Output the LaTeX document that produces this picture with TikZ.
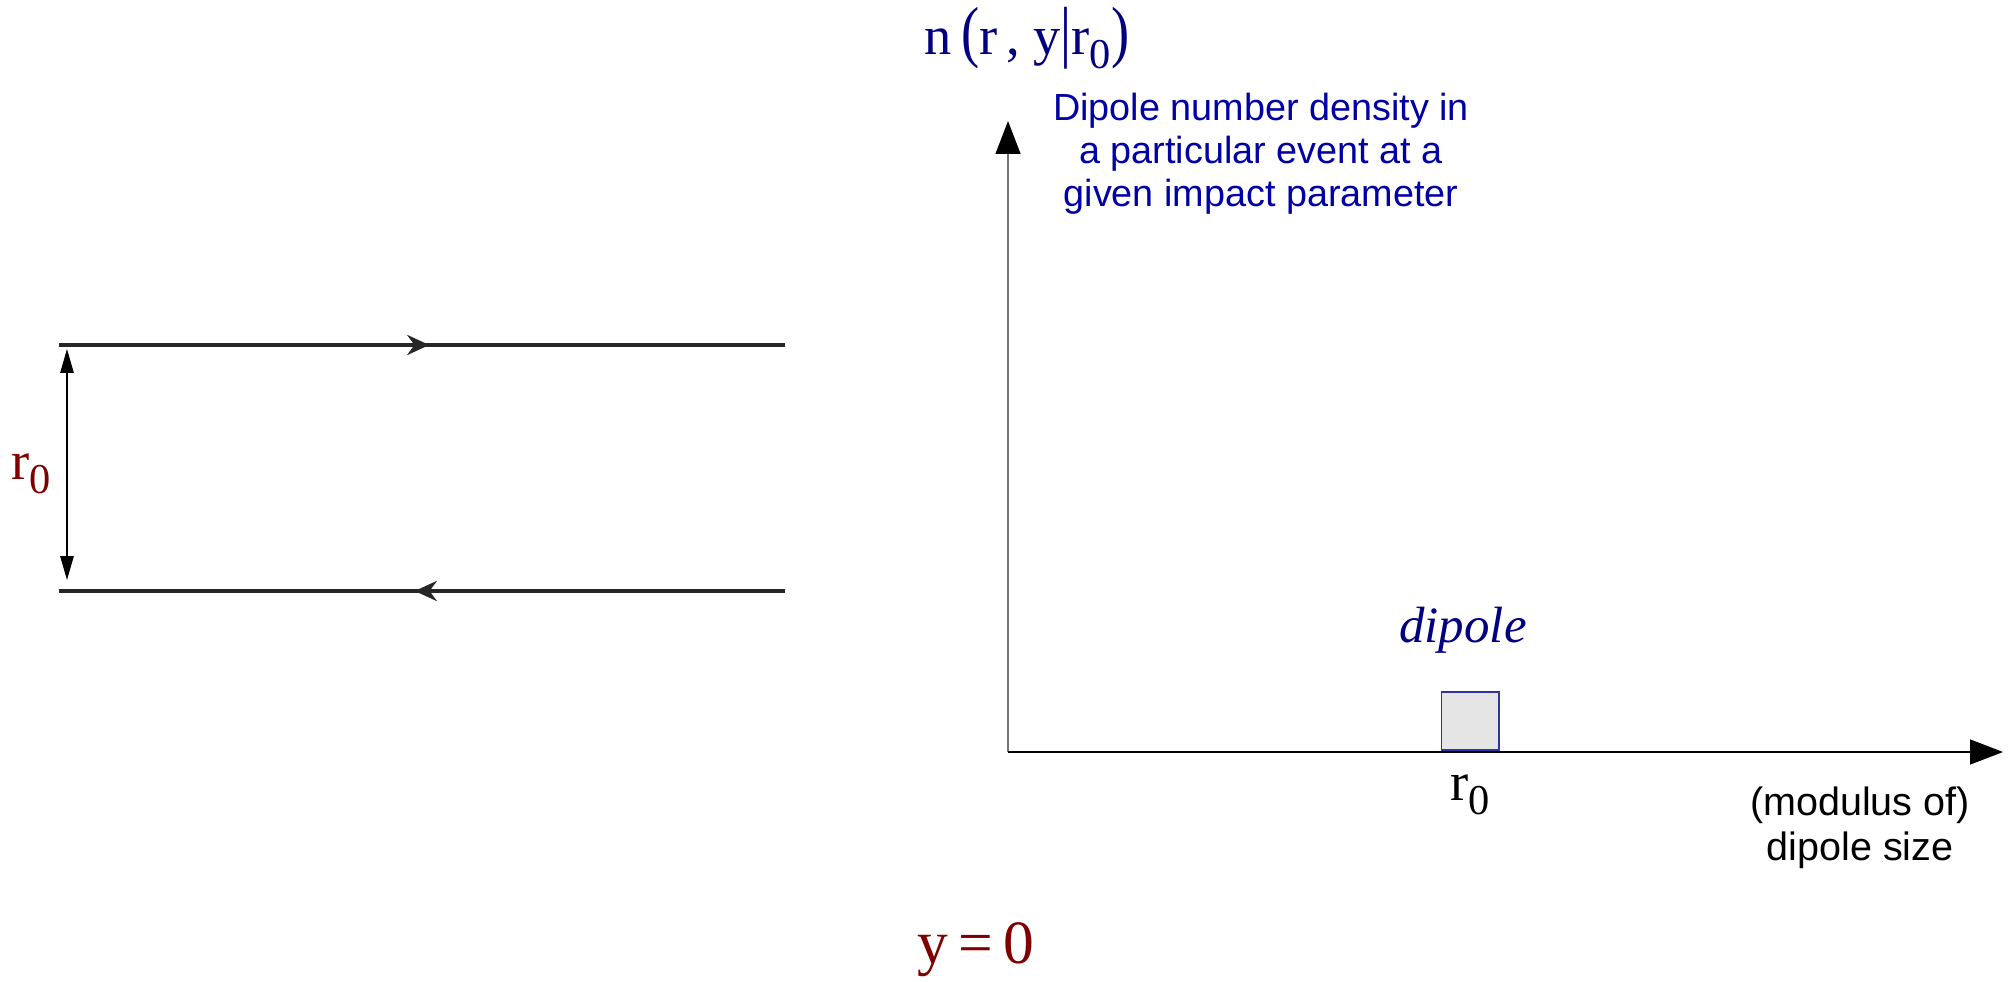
\documentclass[tikz,border=0pt]{standalone}
\usepackage{fontspec}
\setmainfont{Liberation Serif}
\setsansfont{Liberation Sans}
\usepackage{graphicx}
\usetikzlibrary{arrows.meta, decorations.markings, positioning}
\definecolor{labelred}{RGB}{128,0,0}
\definecolor{labelnavy}{RGB}{0,0,128}
\definecolor{textblue}{RGB}{0,0,165}
\definecolor{boxedge}{RGB}{50,50,160}
\newcommand{\sub}[1]{\raisebox{-0.55ex}{\scalebox{0.78}{#1}}}

\begin{document}
\begin{tikzpicture}[x=0.02cm, y=-0.02cm,
    wire/.style={line width=2.4pt, draw=black!85,
        decoration={markings, mark=at position 0.51 with {\arrow{Stealth[length=0.44cm, width=0.4cm]}}},
        postaction={decorate}},
    dimarrow/.style={{Triangle[length=0.48cm, width=0.27cm]}-{Triangle[length=0.48cm, width=0.27cm]}, line width=0.7pt},
    axisarrow/.style={-{Triangle[length=0.66cm, width=0.5cm, color=black]}, line width=0.8pt},
    mathlabel/.style={font=\fontsize{31}{34}\selectfont},
    sanslabel/.style={font=\sffamily\fontsize{21.5}{24.5}\selectfont, align=center},
    dipolebox/.style={draw=boxedge, fill=black!10, minimum size=1.16cm, inner sep=0pt, line width=0.6pt}]
    \useasboundingbox (0,0) rectangle (2010,982);

    % Lineas del dipolo
    \coordinate (ul) at (59,345);
    \coordinate (ur) at (785,345);
    \coordinate (ll) at (59,591);
    \coordinate (lr) at (785,591);
    \coordinate (dtop) at (67,349);
    \coordinate (dbot) at (67,580);
    \draw[wire] (ul) -- (ur);
    \draw[wire] (lr) -- (ll);
    \draw[dimarrow] (dtop) -- (dbot);
    \node[mathlabel, text=labelred] (rzero) at (31,474) {r\sub{0}};

    % Ejes
    \coordinate (O) at (1008,752);
    \coordinate (ytip) at (1008,121);
    \coordinate (xtip) at (2003,752);
    \draw[axisarrow, draw=black!55] (O) -- (ytip);
    \draw[axisarrow] (O) -- (xtip);

    % Etiquetas
    \node[mathlabel, text=labelnavy] (density) at (1027,38)
        {n\,\scalebox{1}[1.25]{(}r\,, y\scalebox{1}[1.25]{|}r\sub{0}\scalebox{1}[1.25]{)}};
    \node[sanslabel, text=textblue] (event) at (1261,154)
        {Dipole number density in\\a particular event at a\\given impact parameter};
    \node[dipolebox] (box) at (1470,721) {};
    \node[font=\itshape\fontsize{29}{33}\selectfont, text=labelnavy] (dipole) at (1463,630) {dipole};
    \node[mathlabel] (rsize) at (1470,795) {r\sub{0}};
    \node[sanslabel, font=\sffamily\fontsize{22.5}{25.5}\selectfont] (modulus) at (1860,828) {(modulus of)\\dipole size};
    \node[font=\fontsize{35}{38}\selectfont, text=labelred] (rapidity) at (976,950) {y\,=\,0};
\end{tikzpicture}
\end{document}
